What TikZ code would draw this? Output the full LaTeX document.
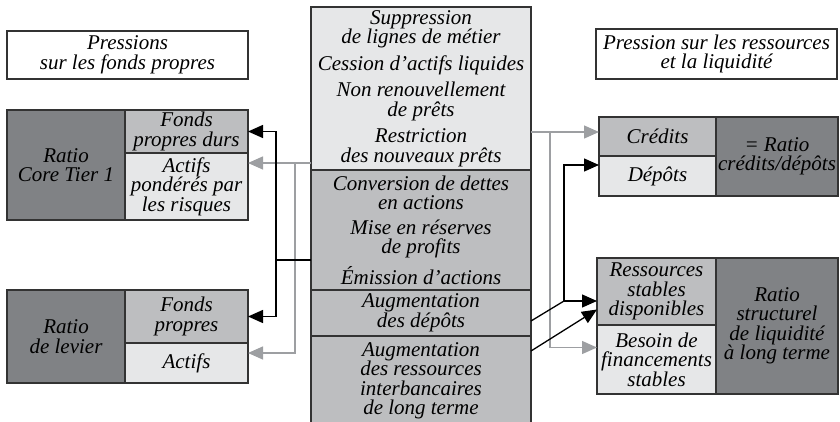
\documentclass[tikz,border=0pt]{standalone}
\usepackage{fontspec}
\setmainfont{Liberation Serif}
\usepackage{xcolor}
\usepackage{tikz}
\usetikzlibrary{arrows.meta,positioning,calc}

\definecolor{pale}{HTML}{E6E7E8}
\definecolor{mid}{HTML}{BDBEC0}
\definecolor{dark}{HTML}{808285}
\definecolor{wire}{HTML}{9D9FA2}

\begin{document}
\begin{tikzpicture}[
    x=1pt, y=1pt,
    box/.style={rectangle, draw=black!80, line width=1.1pt, inner sep=0pt, outer sep=0pt, align=center, anchor=north west, font=\fontsize{21}{19.5}\selectfont\itshape},
    title/.style={box, fill=white},
    lite/.style={box, fill=pale},
    gris/.style={box, fill=mid},
    ratio/.style={box, fill=dark},
    line/.style={draw, line width=1.3pt, -{Triangle[length=15pt,width=13pt]}},
    gline/.style={line, draw=wire, color=wire},
    link/.style={draw, line width=1.3pt}
]
    \useasboundingbox (0,0) rectangle (840,-422);

    % headers
    \node [title, minimum width=241pt, minimum height=48pt] (presFP) at (7,-31) {Pressions\\sur les fonds propres};
    \node [title, minimum width=241pt, minimum height=50pt] (presRL) at (596,-29) {Pression sur les ressources\\et la liquidit\'e};

    % central column of levers
    \node [lite, minimum width=220pt, minimum height=163pt] (c1) at (311,-7) {Suppression\\de lignes de m\'etier\\[7pt]Cession d'actifs liquides\\[7pt]Non renouvellement\\de pr\^ets\\[7pt]Restriction\\des nouveaux pr\^ets};
    \node [gris, minimum width=220pt, minimum height=120pt, below=0pt of c1] (c2) {Conversion de dettes\\en actions\\[5pt]Mise en r\'eserves\\de profits\\[7pt]\'Emission d'actions};
    \node [gris, minimum width=220pt, minimum height=46pt, below=0pt of c2] (c3) {Augmentation\\des d\'ep\^ots};
    \node [gris, minimum width=220pt, minimum height=90pt, below=0pt of c3] (c4) {Augmentation\\des ressources\\interbancaires\\de long terme};

    % Core Tier 1
    \node [ratio, minimum width=118pt, minimum height=110pt] (ratioA) at (7,-110) {Ratio\\Core Tier 1};
    \node [gris, minimum width=123pt, minimum height=43pt] (fpd) at (ratioA.north east) {Fonds\\propres durs};
    \node [lite, minimum width=123pt, minimum height=67pt] (apr) at (fpd.south west) {Actifs\\pond\'er\'es par\\les risques};

    % levier
    \node [ratio, minimum width=118pt, minimum height=93pt] (ratioB) at (7,-290) {Ratio\\de levier};
    \node [gris, minimum width=123pt, minimum height=53pt] (fp) at (ratioB.north east) {Fonds\\propres};
    \node [lite, minimum width=123pt, minimum height=40pt] (act) at (fp.south west) {Actifs};

    % credits / depots
    \node [gris, minimum width=117pt, minimum height=39pt] (cred) at (599,-117) {Cr\'edits};
    \node [lite, minimum width=117pt, minimum height=40pt] (dep) at (cred.south west) {D\'ep\^ots};
    \node [ratio, minimum width=122pt, minimum height=79pt] (ratioC) at (cred.north east) {= Ratio\\cr\'edits/d\'ep\^ots};

    % liquidite long terme
    \node [gris, minimum width=119pt, minimum height=67pt] (rsd) at (597,-258) {Ressources\\stables\\disponibles};
    \node [lite, minimum width=119pt, minimum height=69pt] (bfs) at (rsd.south west) {Besoin de\\financements\\stables};
    \node [ratio, minimum width=122pt, minimum height=136pt] (ratioD) at (rsd.north east) {Ratio\\structurel\\de liquidit\'e\\\`a long terme};

    % junctions
    \coordinate (jL) at (276,-260);
    \coordinate (gL) at (295,-163);
    \coordinate (gR) at (550,-132);
    \coordinate (jR) at (564,-301);

    % grey links
    \path [gline] (c1.west |- gL) -- (apr.east |- gL);
    \path [gline] (gL) |- ([yshift=10pt]act.east);
    \path [gline] (c1.east |- gR) -- (cred.west |- gR);
    \path [gline] (gR) |- ([yshift=12pt]bfs.west);

    % black links
    \path [link] (c2.west |- jL) -- (jL);
    \path [line] (jL) |- (fpd.east);
    \path [line] (jL) |- (fp.east);
    \path [link] ([yshift=-8pt]c3.east) -- (jR);
    \path [line] (jR) -- (rsd.west |- jR);
    \path [line] (jR) |- ([yshift=11pt]dep.west);
    \path [line] ([yshift=30pt]c4.east) -- ([yshift=-18pt]rsd.west);
\end{tikzpicture}
\end{document}
